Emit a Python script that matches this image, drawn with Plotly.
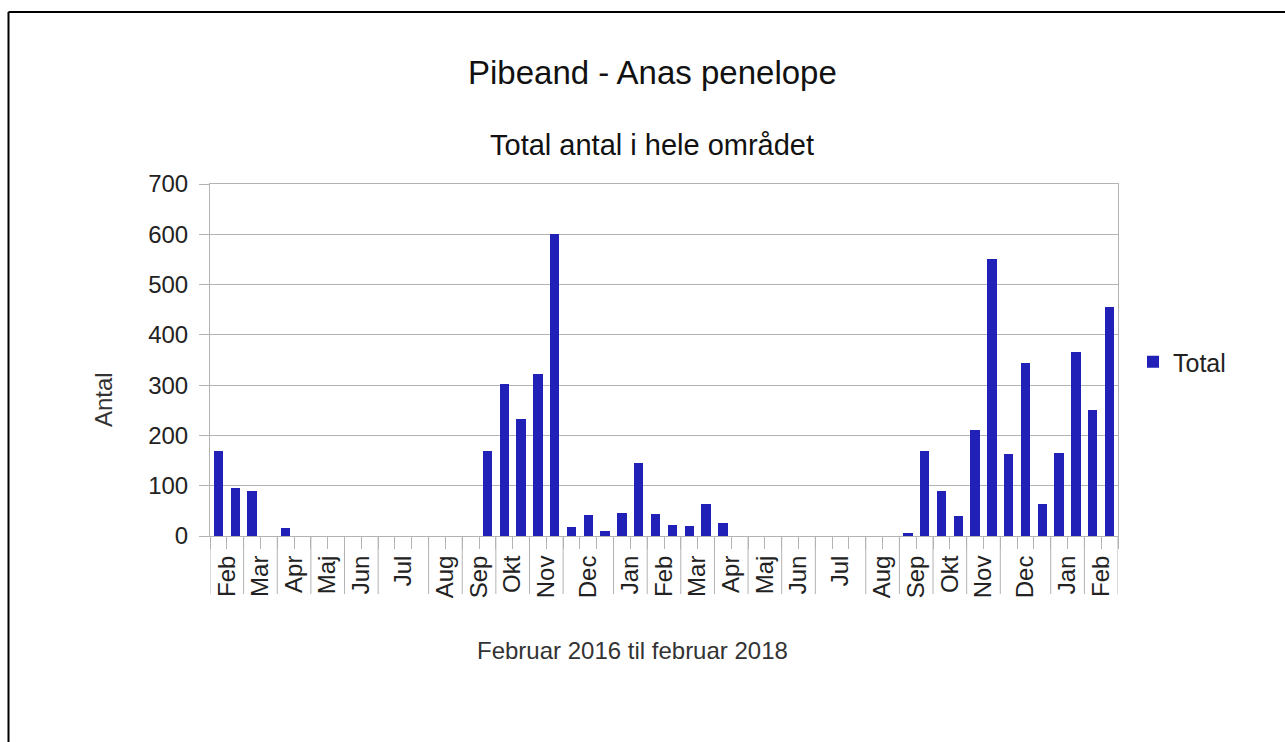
import plotly.graph_objects as go

# ---------------- data ----------------
month_labels = ["Feb", "Mar", "Apr", "Maj", "Jun", "Jul", "Aug", "Sep", "Okt", "Nov", "Dec", "Jan",
                "Feb", "Mar", "Apr", "Maj", "Jun", "Jul", "Aug", "Sep", "Okt", "Nov", "Dec", "Jan", "Feb"]
# number of counting dates (categories) in each month group
month_counts = [2, 2, 2, 2, 2, 3, 2, 2, 2, 2, 3, 2,
                2, 2, 2, 2, 2, 3, 2, 2, 2, 2, 3, 2, 2]
# total count at each counting date (None = no birds / no bar)
total_values = [
    170, 95,          # Feb 2016
    90, None,         # Mar
    15, None,         # Apr
    None, None,       # Maj
    None, None,       # Jun
    None, None, None, # Jul
    None, None,       # Aug
    None, 170,        # Sep
    303, 232,         # Okt
    323, 601,         # Nov
    17, 42, 10,       # Dec
    46, 146,          # Jan 2017
    43, 22,           # Feb
    19, 64,           # Mar
    26, None,         # Apr
    None, None,       # Maj
    None, None,       # Jun
    None, None, None, # Jul
    None, None,       # Aug
    6, 169,           # Sep
    90, 40,           # Okt
    210, 550,         # Nov
    163, 344, 64,     # Dec
    166, 366,         # Jan 2018
    250, 455,         # Feb
]
y_ticks = [0, 100, 200, 300, 400, 500, 600, 700]

title_text = "Pibeand - Anas penelope"
subtitle_text = "Total antal i hele området"
x_title = "Februar 2016 til februar 2018"
y_title = "Antal"
series_name = "Total"

# ---------------- derived positions ----------------
n_cat = len(total_values)
cat_x = list(range(n_cat))
boundaries = []
centers = []
pos = 0
boundaries.append(pos - 0.5)
for c in month_counts:
    centers.append(pos - 0.5 + c / 2)
    pos += c
    boundaries.append(pos - 0.5)
cat_bounds = [i - 0.5 for i in range(n_cat + 1)]

# ---------------- layout geometry (pixels) ----------------
W, H = 1285, 742
L, R, T, B = 210, 1118, 184, 536
pw, ph = R - L, B - T


def px(xp):
    return (xp - L) / pw


def py(yp):
    return (B - yp) / ph


GRID = "#b3b3b3"
BAR = "#2121b8"
FONT = "Liberation Sans, Arial, sans-serif"

fig = go.Figure()
fig.add_trace(go.Bar(
    x=cat_x, y=total_values, name=series_name,
    marker=dict(color=BAR, line=dict(width=0)),
    width=0.56, showlegend=True,
))

shapes = []
for b in boundaries:
    shapes.append(dict(type="line", xref="x", yref="paper", x0=b, x1=b,
                       y0=0, y1=py(594), line=dict(color=GRID, width=1), layer="below"))
# outer page frame
shapes.append(dict(type="line", xref="paper", yref="paper", x0=px(8.5), x1=px(1300),
                   y0=py(12), y1=py(12), line=dict(color="black", width=2)))
shapes.append(dict(type="line", xref="paper", yref="paper", x0=px(8.5), x1=px(8.5),
                   y0=py(12), y1=py(760), line=dict(color="black", width=2)))

annotations = [
    dict(text=title_text, xref="paper", yref="paper", x=px(652), y=py(73),
         showarrow=False, xanchor="center", yanchor="middle",
         font=dict(family=FONT, size=33, color="#111111")),
    dict(text=subtitle_text, xref="paper", yref="paper", x=px(652), y=py(145),
         showarrow=False, xanchor="center", yanchor="middle",
         font=dict(family=FONT, size=29, color="#111111")),
    dict(text=x_title, xref="paper", yref="paper", x=px(632), y=py(650),
         showarrow=False, xanchor="center", yanchor="middle",
         font=dict(family=FONT, size=24, color="#333333")),
    dict(text=y_title, xref="paper", yref="paper", x=px(103), y=py(400),
         showarrow=False, xanchor="center", yanchor="middle", textangle=-90,
         font=dict(family=FONT, size=24, color="#333333")),
]

fig.update_layout(
    width=W, height=H,
    margin=dict(l=L, r=W - R, t=T, b=H - B, pad=0),
    paper_bgcolor="white", plot_bgcolor="white",
    font=dict(family=FONT, size=24, color="#222222"),
    shapes=shapes, annotations=annotations,
    bargap=0,
    legend=dict(x=px(1133), y=py(362), xanchor="left", yanchor="middle",
                font=dict(family=FONT, size=25, color="#222222"),
                bgcolor="rgba(0,0,0,0)", borderwidth=0),
    xaxis=dict(
        range=[-0.5, n_cat - 0.5], tickmode="array", tickvals=centers, ticktext=month_labels,
        tickangle=-90, ticks="", showgrid=False, zeroline=False,
        showline=True, linecolor=GRID, linewidth=1, mirror=True,
        tickfont=dict(family=FONT, size=24, color="#222222"),
        ticklabelstandoff=9,
        minor=dict(tickmode="array", tickvals=cat_bounds, ticks="outside", ticklen=12,
                   tickcolor=GRID, tickwidth=1, showgrid=False),
    ),
    yaxis=dict(
        range=[0, 700], tickmode="array", tickvals=y_ticks,
        ticks="outside", ticklen=10, tickcolor=GRID, tickwidth=1,
        showgrid=True, gridcolor=GRID, gridwidth=1, zeroline=False,
        showline=True, linecolor=GRID, linewidth=1, mirror=True,
        tickfont=dict(family=FONT, size=24, color="#222222"),
        ticklabelstandoff=6,
    ),
)

fig.write_html("out.html", config={"displayModeBar": False},
               post_script="document.body.style.margin='0';")
